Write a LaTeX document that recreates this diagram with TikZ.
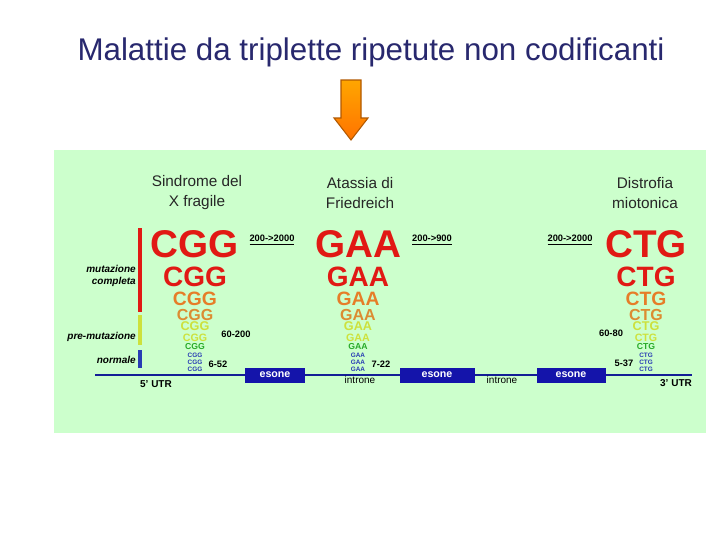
\documentclass[tikz,border=0pt]{standalone}
\usepackage{fontspec}
\setmainfont{Liberation Sans}
\begin{document}
\begin{tikzpicture}[x=0.75pt,y=-0.75pt,
  tri/.style={font=\fontsize{#1}{#1}\selectfont\bfseries,inner sep=0pt,anchor=center},
  hdr/.style={font=\fontsize{11.5}{15}\selectfont,align=center,text=black!85},
  lab/.style={font=\fontsize{7.5}{9}\selectfont\bfseries\itshape,anchor=east,inner sep=0pt},
  num/.style={font=\fontsize{7}{8}\selectfont\bfseries,inner sep=0pt},
  exon/.style={draw=none,fill=exblue,minimum width=#1,minimum height=15*0.75pt,inner sep=0pt,text=white,font=\fontsize{8}{8}\selectfont\bfseries},
  ]
\definecolor{bg}{RGB}{204,255,204}
\definecolor{rd}{RGB}{225,25,20}
\definecolor{orA}{RGB}{230,125,40}
\definecolor{orB}{RGB}{220,140,50}
\definecolor{yl}{RGB}{205,225,60}
\definecolor{gr}{RGB}{40,170,40}
\definecolor{bl}{RGB}{40,60,180}
\definecolor{exblue}{RGB}{20,20,170}
\definecolor{ln}{RGB}{20,30,150}
\definecolor{ttl}{RGB}{40,40,110}
\useasboundingbox (0,0) rectangle (720,540);
\fill[white] (0,0) rectangle (720,540);
\fill[bg] (54,150) rectangle (706,433);
\node[font=\fontsize{23.5}{26}\selectfont,text=ttl] (title) at (371,52) {Malattie da triplette ripetute non codificanti};
% arrow
\shade[top color=orange!70!yellow,bottom color=orange!90!red,draw=orange!70!black,line width=0.8pt]
 (341,80) -- (361,80) -- (361,118) -- (368,118) -- (351,140) -- (334,118) -- (341,118) -- cycle;
% headers
\node[hdr] (h1) at (197,193) {Sindrome del\\X fragile};
\node[hdr] (h2) at (360,193) {Atassia di\\Friedreich};
\node[hdr] (h3) at (645,193) {Distrofia\\miotonica};
% left bar
\draw[rd,line width=2.5pt] (140,228) -- (140,312);
\draw[yl,line width=2.5pt] (140,315) -- (140,345);
\draw[bl,line width=2.5pt] (140,350) -- (140,368);
\node[lab,align=right] (l1) at (136,276) {mutazione\\completa};
\node[lab] (l2) at (136,337) {pre-mutazione};
\node[lab] (l3) at (136,360) {normale};
% stacks
\foreach \t/\cx/\n in {CGG/195/a,GAA/358/b,CTG/646/c}{
 \node[tri=29pt,text=rd] (\n1) at (\cx,244) {\t};
 \node[tri=21pt,text=rd] (\n2) at (\cx,277) {\t};
 \node[tri=14.5pt,text=orA] (\n3) at (\cx,299) {\t};
 \node[tri=12pt,text=orB] (\n4) at (\cx,314.5) {\t};
 \node[tri=9.5pt,text=yl] (\n5) at (\cx,326.5) {\t};
 \node[tri=8pt,text=yl] (\n6) at (\cx,337.5) {\t};
 \node[tri=6.5pt,text=gr] (\n7) at (\cx,346.5) {\t};
 \node[tri=4.8pt,text=bl] (\n8) at (\cx,355) {\t};
 \node[tri=4.8pt,text=bl] (\n9) at (\cx,362) {\t};
 \node[tri=4.8pt,text=bl] (\n10) at (\cx,369) {\t};
}
% ranges
\node[num] (r1) at (272,240) {\underline{200->2000}};
\node[num] (r2) at (432,240) {\underline{200->900}};
\node[num] (r3) at (570,240) {\underline{200->2000}};
\node[num] (n1) at (236,334) {60-200};
\node[num] (n2) at (218,364) {6-52};
\node[num] (n3) at (381,364) {7-22};
\node[num] (n4) at (611,333) {60-80};
\node[num] (n5) at (624,363) {5-37};
% gene line
\coordinate (g0) at (95,375);
\coordinate (g1) at (692,375);
\draw[ln,line width=2.2pt] (g0) -- (g1);
\node[exon=60*0.75pt] (e1) at (275,375) {esone};
\node[exon=75*0.75pt] (e2) at (437,375) {esone};
\node[exon=69*0.75pt] (e3) at (571,375) {esone};
\node[num,font=\fontsize{7.5}{8}\selectfont\bfseries] (u5) at (156,384) {5' UTR};
\node[num,font=\fontsize{7.5}{8}\selectfont] (i1) at (360,380) {introne};
\node[num,font=\fontsize{7.5}{8}\selectfont] (i2) at (502,380) {introne};
\node[num,font=\fontsize{7.5}{8}\selectfont\bfseries] (u3) at (676,383) {3' UTR};
\end{tikzpicture}
\end{document}
